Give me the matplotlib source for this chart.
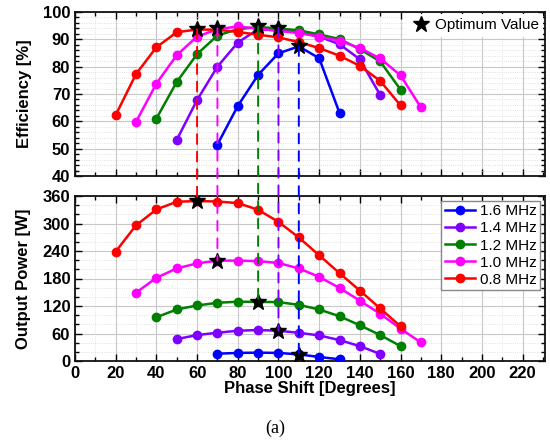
import matplotlib.pyplot as plt
from matplotlib.patches import ConnectionPatch
from matplotlib.lines import Line2D
from matplotlib.ticker import MultipleLocator

plt.rcParams["font.family"] = ["Liberation Sans", "DejaVu Sans"]

labels = ["1.6 MHz", "1.4 MHz", "1.2 MHz", "1.0 MHz", "0.8 MHz"]
colors = ["#0000ff", "#8000ff", "#008000", "#ff00ff", "#ff0000"]

phase_16 = [70, 80, 90, 100, 110, 120, 130]
phase_14 = [50, 60, 70, 80, 90, 100, 110, 120, 130, 140, 150]
phase_12 = [40, 50, 60, 70, 80, 90, 100, 110, 120, 130, 140, 150, 160]
phase_10 = [30, 40, 50, 60, 70, 80, 90, 100, 110, 120, 130, 140, 150, 160, 170]
phase_08 = [20, 30, 40, 50, 60, 70, 80, 90, 100, 110, 120, 130, 140, 150, 160]

eff_16 = [51.5, 65.6, 77.0, 84.9, 87.4, 83.1, 63.1]
eff_14 = [53.2, 67.8, 80.0, 88.8, 93.7, 93.3, 92.6, 91.0, 88.2, 82.7, 69.6]
eff_12 = [61.0, 74.4, 84.6, 91.4, 93.7, 94.5, 94.0, 93.3, 91.8, 90.1, 86.4, 81.9, 71.6]
eff_10 = [59.8, 73.8, 84.2, 91.0, 93.7, 94.7, 93.9, 93.1, 92.3, 91.0, 89.5, 86.8, 83.0, 76.8, 65.1]
eff_08 = [62.3, 77.3, 87.1, 92.6, 93.6, 93.5, 92.7, 91.7, 90.7, 89.0, 86.8, 84.0, 80.3, 74.8, 65.8]

pow_16 = [16.0, 17.6, 18.3, 17.6, 14.5, 8.8, 3.7]
pow_14 = [47.8, 56.6, 61.7, 66.0, 67.6, 66.0, 61.5, 55.8, 45.6, 32.4, 15.4]
pow_12 = [95.5, 112.4, 121.2, 127.0, 129.4, 129.0, 128.5, 122.5, 112.4, 97.7, 77.9, 56.6, 32.4]
pow_10 = [149.0, 181.5, 202.0, 213.0, 219.0, 219.0, 218.0, 213.8, 202.0, 183.6, 159.4, 131.6, 102.9, 70.5, 40.4]
pow_08 = [238.7, 296.0, 330.6, 347.5, 349.0, 348.0, 344.5, 330.0, 303.5, 269.5, 230.7, 191.7, 153.6, 114.6, 75.6]

# optimum points, order matches labels
opt_phase = [110, 100, 90, 70, 60]
opt_eff = [87.5, 94.2, 94.8, 94.0, 93.7]
opt_pow = [14.0, 66.0, 129.0, 219.0, 349.0]

phases = [phase_16, phase_14, phase_12, phase_10, phase_08]
effs = [eff_16, eff_14, eff_12, eff_10, eff_08]
pows = [pow_16, pow_14, pow_12, pow_10, pow_08]

fig = plt.figure(figsize=(5.5, 4.43), dpi=100)
ax1 = fig.add_axes([75 / 550, 1 - 176 / 443, 470 / 550, 164 / 443])
ax2 = fig.add_axes([75 / 550, 1 - 361 / 443, 470 / 550, 165 / 443])

for i in range(5):
    ax1.plot(phases[i], effs[i], "-o", color=colors[i], lw=1.8, ms=6, zorder=3)
    ax2.plot(phases[i], pows[i], "-o", color=colors[i], lw=1.8, ms=6, zorder=3,
             label=labels[i])

ax1.plot(opt_phase, opt_eff, "*", color="black", ms=12, ls="none", zorder=5)
ax2.plot(opt_phase, opt_pow, "*", color="black", ms=12, ls="none", zorder=5)

for i in range(5):
    con = ConnectionPatch(xyA=(opt_phase[i], opt_eff[i]), coordsA=ax1.transData,
                          xyB=(opt_phase[i], opt_pow[i]), coordsB=ax2.transData,
                          color=colors[i], ls=(0, (5, 4)), lw=1.4, zorder=2)
    fig.add_artist(con)

for ax in (ax1, ax2):
    ax.set_xlim(0, 231)
    ax.xaxis.set_major_locator(MultipleLocator(20))
    ax.xaxis.set_minor_locator(MultipleLocator(10))
    ax.grid(True, which="major", color="#c8c8c8", lw=0.8)
    ax.grid(True, which="minor", color="#d8d8d8", lw=0.6, ls=":")
    ax.set_axisbelow(True)
    ax.tick_params(which="both", direction="in", top=True, right=True,
                   labelsize=12, width=1.0)
    ax.tick_params(which="major", length=5)
    ax.tick_params(which="minor", length=3)
    for s in ax.spines.values():
        s.set_linewidth(1.3)
        s.set_color("#111111")

ax1.set_ylim(40, 100)
ax1.yaxis.set_major_locator(MultipleLocator(10))
ax1.yaxis.set_minor_locator(MultipleLocator(2))
ax1.tick_params(labelbottom=False)
ax1.set_ylabel("Efficiency [%]", fontsize=12, fontweight="bold", labelpad=8)

ax2.set_ylim(0, 360)
ax2.yaxis.set_major_locator(MultipleLocator(60))
ax2.yaxis.set_minor_locator(MultipleLocator(20))
ax2.set_ylabel("Output Power [W]", fontsize=12, fontweight="bold", labelpad=8)
ax2.set_xlabel("Phase Shift [Degrees]", fontsize=12, fontweight="bold", labelpad=0)
for lab in ax1.get_yticklabels() + ax2.get_xticklabels() + ax2.get_yticklabels():
    lab.set_fontweight("bold")

star = Line2D([], [], marker="*", color="black", ls="none", ms=12)
ax1.legend([star], ["Optimum Value"], loc="upper right", frameon=True,
           fancybox=False, edgecolor="none", framealpha=1, fontsize=11,
           handletextpad=0.3, handlelength=1.2, borderaxespad=0.1, borderpad=0.3)

ax2.legend(loc="upper right", fontsize=11, fancybox=False, edgecolor="#888888",
           framealpha=1, handlelength=2.0, labelspacing=0.2, borderpad=0.25,
           handletextpad=0.3, borderaxespad=0.3)

fig.text(0.5, 1 - 428 / 443, "(a)", ha="center", va="center",
         fontsize=13, family=["Liberation Serif", "DejaVu Serif"])

fig.savefig("out.png", dpi=100)
